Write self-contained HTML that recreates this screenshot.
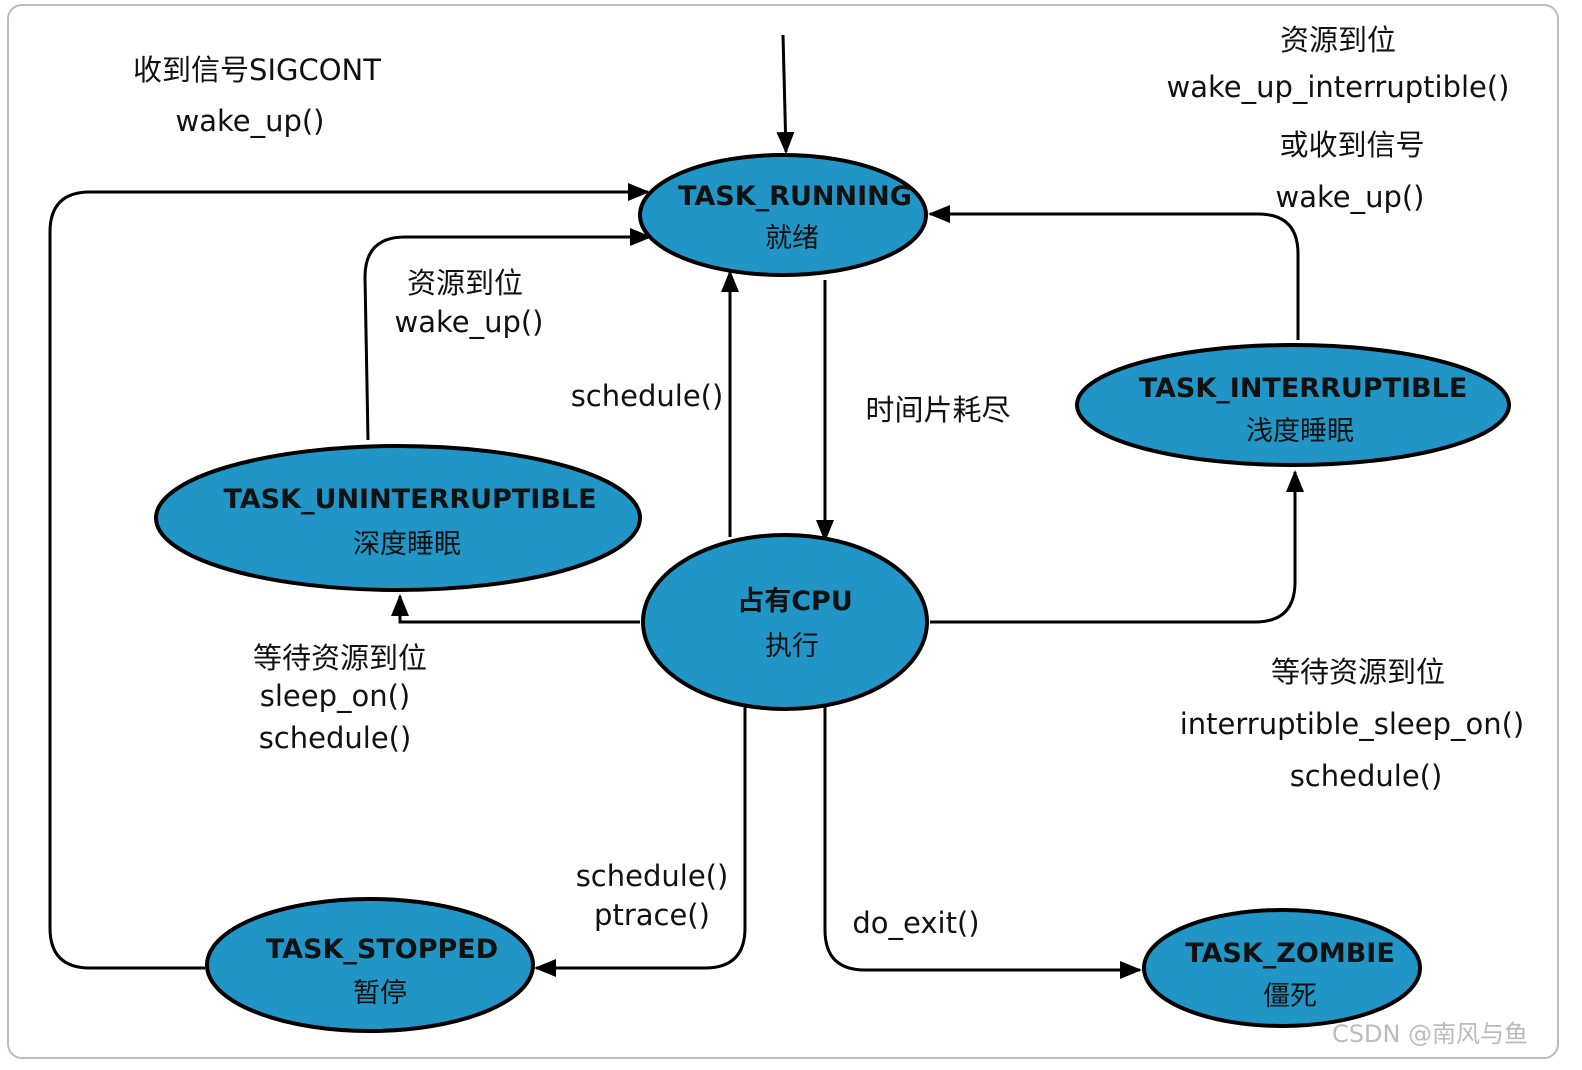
<!DOCTYPE html>
<html><head><meta charset="utf-8"><style>
body{margin:0;background:#fff;width:1582px;height:1070px;overflow:hidden}
svg{display:block}
text{font-family:"DejaVu Sans","Noto Sans CJK SC",sans-serif;fill:#111}
.l{font-size:29px}
.b{font-size:27px;font-weight:bold}
.c{font-size:27px}
</style></head><body>
<svg width="1582" height="1070" viewBox="0 0 1582 1070">
<defs>
<marker id="ab" markerWidth="22" markerHeight="22" refX="20" refY="11" orient="auto" markerUnits="userSpaceOnUse" viewBox="0 0 22 22">
<path d="M0,2 L22,11 L0,20 z" fill="#000"/></marker>
</defs>
<rect x="8" y="5" width="1550" height="1053" rx="14" fill="#fff" stroke="#bbb" stroke-width="2"/>
<g fill="none" stroke="#000" stroke-width="3" marker-end="url(#ab)">
<path d="M783,35 L786,152"/>
<path d="M205,968 L90,968 Q50,968 50,928 L50,232 Q50,192 90,192 L648,192"/>
<path d="M368,440 L365,277 Q365,237 405,237 L650,237"/>
<path d="M730,537 L730,272"/>
<path d="M825,280 L825,540"/>
<path d="M1298,340 L1298,254 Q1298,214 1258,214 L930,214"/>
<path d="M930,622 L1255,622 Q1295,622 1295,582 L1295,472"/>
<path d="M640,622 L400,622 L400,596"/>
<path d="M745,705 L745,928 Q745,968 705,968 L536,968"/>
<path d="M825,705 L825,930 Q825,970 865,970 L1140,970"/>
</g>
<g fill="#2196c6" stroke="#000" stroke-width="4">
<ellipse cx="783" cy="215" rx="143" ry="60"/>
<ellipse cx="1293" cy="405" rx="216" ry="60"/>
<ellipse cx="398" cy="518" rx="242" ry="72"/>
<ellipse cx="785" cy="622" rx="142" ry="87"/>
<ellipse cx="370" cy="965" rx="163" ry="66"/>
<ellipse cx="1282" cy="968" rx="138" ry="58"/>
</g>
<g text-anchor="middle">
<text class="b" x="795" y="205">TASK_RUNNING</text>
<text class="c" x="792" y="247">就绪</text>
<text class="b" x="1303" y="397">TASK_INTERRUPTIBLE</text>
<text class="c" x="1300" y="440">浅度睡眠</text>
<text class="b" x="410" y="508">TASK_UNINTERRUPTIBLE</text>
<text class="c" x="407" y="553">深度睡眠</text>
<text class="b" x="795" y="610">占有CPU</text>
<text class="c" x="792" y="655">执行</text>
<text class="b" x="382" y="958">TASK_STOPPED</text>
<text class="c" x="380" y="1002">暂停</text>
<text class="b" x="1290" y="962">TASK_ZOMBIE</text>
<text class="c" x="1290" y="1005">僵死</text>
<text class="l" x="257" y="80">收到信号SIGCONT</text>
<text class="l" x="250" y="131">wake_up()</text>
<text class="l" x="1338" y="50">资源到位</text>
<text class="l" x="1338" y="97">wake_up_interruptible()</text>
<text class="l" x="1352" y="155">或收到信号</text>
<text class="l" x="1350" y="207">wake_up()</text>
<text class="l" x="465" y="293">资源到位</text>
<text class="l" x="469" y="332">wake_up()</text>
<text class="l" x="647" y="406">schedule()</text>
<text class="l" x="938" y="420">时间片耗尽</text>
<text class="l" x="340" y="668">等待资源到位</text>
<text class="l" x="335" y="706">sleep_on()</text>
<text class="l" x="335" y="748">schedule()</text>
<text class="l" x="1358" y="682">等待资源到位</text>
<text class="l" x="1352" y="734">interruptible_sleep_on()</text>
<text class="l" x="1366" y="786">schedule()</text>
<text class="l" x="652" y="886">schedule()</text>
<text class="l" x="652" y="925">ptrace()</text>
<text class="l" x="916" y="933">do_exit()</text>
</g>
<text x="1332" y="1042" font-size="24" style="fill:#bbb">CSDN @南风与鱼</text>
</svg>
</body></html>
